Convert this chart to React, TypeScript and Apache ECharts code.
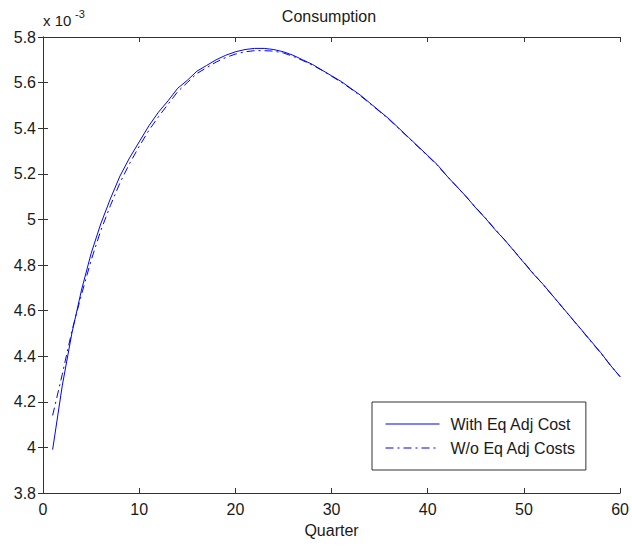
import React, { useEffect, useRef } from "react";
import * as echarts from "echarts";

const quarters = Array.from({ length: 60 }, (_, i) => i + 1);

const withAdjCost = [
  3.99, 4.27, 4.5, 4.69, 4.85, 4.98, 5.09, 5.19, 5.27, 5.34,
  5.41, 5.47, 5.52, 5.575, 5.61, 5.65, 5.675, 5.7, 5.72, 5.735,
  5.745, 5.75, 5.75, 5.745, 5.735, 5.72, 5.7, 5.68, 5.655, 5.63,
  5.605, 5.575, 5.545, 5.51, 5.475, 5.44, 5.4, 5.36, 5.32, 5.28,
  5.24, 5.19, 5.145, 5.1, 5.05, 5.005, 4.955, 4.91, 4.86, 4.81,
  4.76, 4.715, 4.665, 4.615, 4.565, 4.515, 4.465, 4.415, 4.36, 4.31,
];

const withoutAdjCost = [
  4.14, 4.32, 4.51, 4.67, 4.82, 4.95, 5.06, 5.16, 5.245, 5.32,
  5.39, 5.45, 5.505, 5.56, 5.6, 5.64, 5.665, 5.69, 5.71, 5.725,
  5.735, 5.74, 5.74, 5.738, 5.73, 5.715, 5.697, 5.677, 5.654, 5.628,
  5.602, 5.573, 5.542, 5.508, 5.473, 5.437, 5.398, 5.358, 5.318, 5.278,
  5.237, 5.19, 5.145, 5.099, 5.052, 5.006, 4.957, 4.91, 4.861, 4.812,
  4.762, 4.714, 4.664, 4.614, 4.564, 4.514, 4.463, 4.413, 4.36, 4.31,
];

const seriesNames = ["With Eq Adj Cost", "W/o Eq Adj Costs"];

const FONT = "'Liberation Sans', Arial, Helvetica, sans-serif";
const AXIS_COLOR = "#333333";
const TEXT_COLOR = "#1a1a1a";

export default function App() {
  const ref = useRef<HTMLDivElement>(null);

  useEffect(() => {
    if (!ref.current) return;
    const chart = echarts.init(ref.current, null, { renderer: "svg" });
    const tickCommon = {
      show: true,
      inside: true,
      length: 5,
      lineStyle: { color: AXIS_COLOR, width: 1 },
    };
    const grid = { left: 43, right: 9, top: 37, bottom: 53 };
    chart.setOption({
      animation: false,
      backgroundColor: "#ffffff",
      title: {
        text: "Consumption",
        left: 324,
        top: 3,
        textAlign: "center",
        textStyle: { fontFamily: FONT, fontSize: 16, fontWeight: "normal", color: TEXT_COLOR },
      },
      grid,
      legend: {
        orient: "vertical",
        left: 372,
        top: 402,
        data: seriesNames,
        itemWidth: 54,
        itemHeight: 14,
        itemGap: 8,
        padding: [14, 10, 14, 13],
        borderColor: AXIS_COLOR,
        borderWidth: 1,
        backgroundColor: "#ffffff",
        itemStyle: { opacity: 0 },
        lineStyle: { width: 1 },
        textStyle: { fontFamily: FONT, fontSize: 16, lineHeight: 16, color: TEXT_COLOR, padding: [0, 0, 0, 6] },
      },
      xAxis: [
        {
          type: "value",
          min: 0,
          max: 60,
          interval: 10,
          name: "Quarter",
          nameLocation: "middle",
          nameGap: 29,
          nameTextStyle: { fontFamily: FONT, fontSize: 16, color: TEXT_COLOR },
          axisLine: { show: true, lineStyle: { color: AXIS_COLOR, width: 1 } },
          axisTick: tickCommon,
          axisLabel: { fontFamily: FONT, fontSize: 16, color: TEXT_COLOR, margin: 8 },
          splitLine: { show: false },
        },
        {
          type: "value",
          position: "top",
          min: 0,
          max: 60,
          interval: 10,
          axisLine: { show: true, lineStyle: { color: AXIS_COLOR, width: 1 } },
          axisTick: tickCommon,
          axisLabel: { show: false },
          splitLine: { show: false },
        },
      ],
      yAxis: [
        {
          type: "value",
          min: 3.8,
          max: 5.8,
          interval: 0.2,
          axisLine: { show: true, lineStyle: { color: AXIS_COLOR, width: 1 } },
          axisTick: tickCommon,
          axisLabel: {
            fontFamily: FONT,
            fontSize: 16,
            color: TEXT_COLOR,
            margin: 7,
            formatter: (v: number) => String(Math.round(v * 10) / 10),
          },
          splitLine: { show: false },
        },
        {
          type: "value",
          position: "right",
          min: 3.8,
          max: 5.8,
          interval: 0.2,
          axisLine: { show: true, lineStyle: { color: AXIS_COLOR, width: 1 } },
          axisTick: tickCommon,
          axisLabel: { show: false },
          splitLine: { show: false },
        },
      ],
      graphic: [
        {
          type: "text",
          left: 43,
          top: 13,
          style: { text: "x 10", fontFamily: FONT, fontSize: 15, fill: TEXT_COLOR },
        },
        {
          type: "text",
          left: 75,
          top: 8,
          style: { text: "-3", fontFamily: FONT, fontSize: 11, fill: TEXT_COLOR },
        },
      ],
      series: [
        {
          name: seriesNames[0],
          type: "line",
          data: quarters.map((q, i) => [q, withAdjCost[i]]),
          symbol: "none",
          smooth: false,
          lineStyle: { color: "#0000ff", width: 1, type: "solid" },
          itemStyle: { color: "#0000ff" },
        },
        {
          name: seriesNames[1],
          type: "line",
          data: quarters.map((q, i) => [q, withoutAdjCost[i]]),
          symbol: "none",
          smooth: false,
          lineStyle: { color: "#0000ff", width: 1, type: [8, 4, 2, 4] },
          itemStyle: { color: "#0000ff" },
        },
      ],
    });
    return () => chart.dispose();
  }, []);

  return <div ref={ref} style={{ width: 632, height: 546, position: "absolute", left: 0, top: 0 }} />;
}
